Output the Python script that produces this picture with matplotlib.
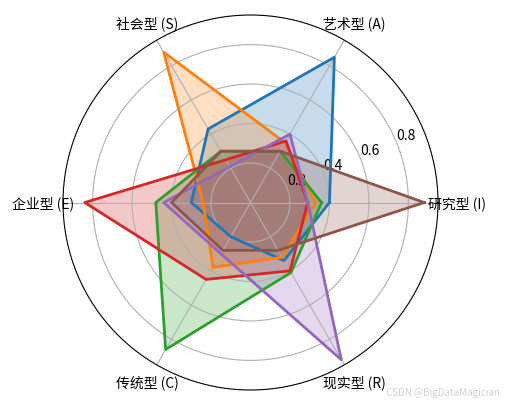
import numpy as np
import matplotlib
matplotlib.use('Agg')
import matplotlib.pyplot as plt

plt.rcParams['font.family'] = ['Noto Sans CJK SC', 'DejaVu Sans']
plt.rcParams['axes.unicode_minus'] = False

labels = ['研究型 (I)', '艺术型 (A)', '社会型 (S)', '企业型 (E)', '传统型 (C)', '现实型 (R)']

# one profile per person, order follows labels
blue   = [0.40, 0.85, 0.43, 0.30, 0.20, 0.34]
orange = [0.33, 0.35, 0.88, 0.24, 0.38, 0.32]
green  = [0.36, 0.30, 0.30, 0.48, 0.86, 0.41]
red    = [0.29, 0.36, 0.25, 0.84, 0.45, 0.40]
purple = [0.29, 0.40, 0.21, 0.44, 0.30, 0.92]
brown  = [0.88, 0.30, 0.30, 0.40, 0.28, 0.28]

series = [blue, orange, green, red, purple, brown]
colors = ['tab:blue', 'tab:orange', 'tab:green', 'tab:red', 'tab:purple', 'tab:brown']

angles = np.linspace(0, 2 * np.pi, len(labels), endpoint=False)
angles_closed = np.concatenate([angles, angles[:1]])

fig = plt.figure(figsize=(5.05, 4.06), dpi=100)
ax = fig.add_axes([63 / 505, 15 / 406, 375 / 505, 375 / 406], polar=True)

for vals, c in zip(series, colors):
    v = np.concatenate([vals, vals[:1]])
    ax.plot(angles_closed, v, color=c, linewidth=2)
    ax.fill(angles_closed, v, color=c, alpha=0.25)

ax.set_xticks(angles)
ax.set_xticklabels(labels, fontsize=10)
ax.set_ylim(0, 0.95)
ax.set_yticks([0.2, 0.4, 0.6, 0.8])
ax.set_yticklabels(['0.2', '0.4', '0.6', '0.8'], fontsize=10)
ax.grid(True)

fig.text(0.99, 0.02, 'CSDN @BigDataMagician', ha='right', va='bottom',
         fontsize=7, color='#d0d0d0')

fig.savefig('out.png', dpi=100)
